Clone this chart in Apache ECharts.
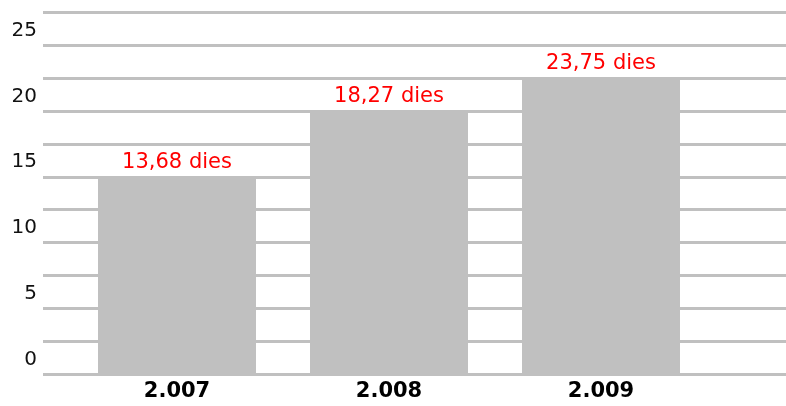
<!DOCTYPE html>
<html>
<head>
<meta charset="utf-8">
<style>
  html, body { margin: 0; padding: 0; background: #fff; }
  #chart { width: 786px; height: 406px; }
</style>
<script src="https://cdn.jsdelivr.net/npm/echarts@6/dist/echarts.min.js"></script>
</head>
<body>
<div id="chart"></div>
<script>
// years on the x axis
const categories = ['2.007', '2.008', '2.009']
// bar heights as drawn in the picture
const barValues = [15, 20, 22.5]
// texts written over each bar
const barLabels = ['13,68 dies', '18,27 dies', '23,75 dies']

const gridColor = '#c0c0c0'
const fontFamily = '"DejaVu Sans", Verdana, sans-serif'

const chart = echarts.init(document.getElementById('chart'))
chart.setOption({
  animation: false,
  grid: [
    { left: 43, right: 0, top: 12, bottom: 31.5 },
    { left: 71, width: 636, top: 12, bottom: 31.5 }
  ],
  xAxis: [
    {
      gridIndex: 0,
      type: 'value',
      show: false
    },
    {
      gridIndex: 1,
      type: 'category',
      data: categories,
      axisLine: { show: false },
      axisTick: { show: false },
      axisLabel: {
        color: '#000',
        fontWeight: 'bold',
        fontSize: 21,
        fontFamily: fontFamily,
        margin: 7
      }
    }
  ],
  yAxis: [
    {
      gridIndex: 0,
      type: 'value',
      min: 0,
      max: 27.5,
      interval: 2.5,
      axisLine: { show: false },
      axisTick: { show: false },
      splitLine: {
        show: true,
        lineStyle: { color: gridColor, width: 3 }
      },
      axisLabel: {
        color: '#111',
        fontSize: 20,
        fontFamily: fontFamily,
        margin: 6,
        verticalAlign: 'bottom',
        lineHeight: 29,
        formatter: function (v) {
          return v % 5 === 0 ? String(v) : ''
        }
      }
    },
    {
      gridIndex: 1,
      type: 'value',
      min: 0,
      max: 27.5,
      show: false,
      splitLine: { show: false }
    }
  ],
  series: [{
    type: 'bar',
    xAxisIndex: 1,
    yAxisIndex: 1,
    data: barValues,
    barWidth: 158,
    itemStyle: { color: gridColor },
    label: {
      show: true,
      position: 'top',
      distance: 4,
      color: '#ff0000',
      fontSize: 21,
      fontFamily: fontFamily,
      formatter: function (p) {
        return barLabels[p.dataIndex]
      }
    }
  }]
})
</script>
</body>
</html>
